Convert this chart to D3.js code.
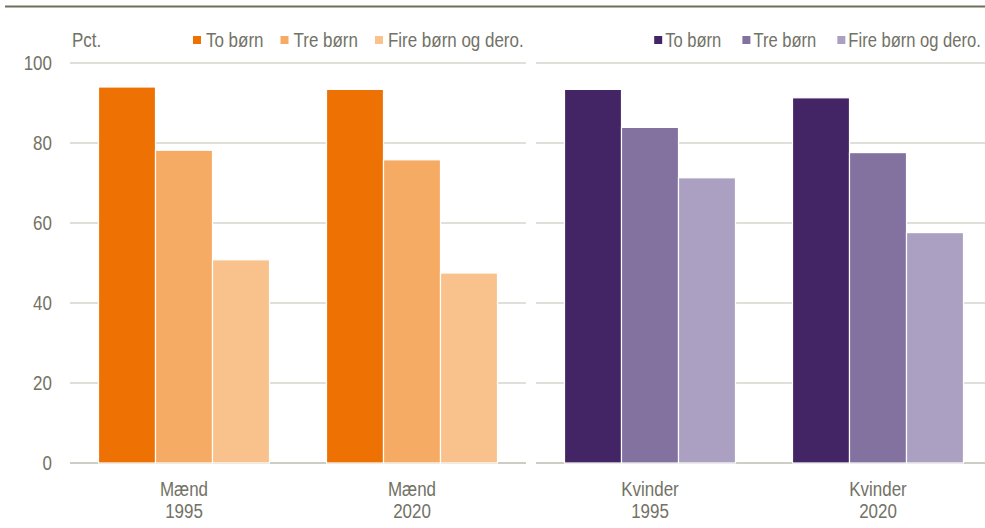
<!DOCTYPE html>
<html>
<head>
<meta charset="utf-8">
<script src="https://cdn.jsdelivr.net/npm/d3@7"></script>
<style>
  html, body { margin: 0; padding: 0; background: #fff; }
  svg { display: block; }
  text { font-family: "Liberation Sans Narrow", "Arial Narrow", "Liberation Sans", Arial, sans-serif; fill: #727266; }
</style>
</head>
<body>
<svg id="chart" width="985" height="528"></svg>
<script>
// ---- Data ----
const seriesNames = ["To børn", "Tre børn", "Fire børn og dero."];
const menGroups = ["Mænd|1995", "Mænd|2020"];
const womenGroups = ["Kvinder|1995", "Kvinder|2020"];
const men1995 = [94.0, 78.2, 50.8];
const men2020 = [93.4, 75.8, 47.5];
const women1995 = [93.4, 83.9, 71.3];
const women2020 = [91.3, 77.6, 57.6];
const yTicks = [0, 20, 40, 60, 80, 100];
const yLabel = "Pct.";
const menColors = ["#EE7203", "#F6AB65", "#F9C28C"];
const womenColors = ["#432566", "#8371A0", "#ABA0C2"];

// ---- Layout ----
const svg = d3.select("#chart");
const FONT = 19.5;
const SQUEEZE = 0.87;
const y = d3.scaleLinear().domain([0, 100]).range([463, 63]);

function condense(sel, k) {
  const f = k || SQUEEZE;
  sel.each(function () {
    const w = this.getComputedTextLength();
    d3.select(this).attr("textLength", w * f).attr("lengthAdjust", "spacingAndGlyphs");
  });
}

// top rule
svg.append("line").attr("x1", 5).attr("x2", 985).attr("y1", 6.5).attr("y2", 6.5)
  .attr("stroke", "#6f6e5c").attr("stroke-width", 2);

function panel(groups, values, colors, range, legend, showYAxis) {
  const g = svg.append("g");
  const x0 = d3.scaleBand().domain(groups).range(range).paddingInner(0.25).paddingOuter(0.125);
  const x1 = d3.scaleBand().domain(seriesNames).range([0, x0.bandwidth()]);
  const color = d3.scaleOrdinal().domain(seriesNames).range(colors);

  // gridlines
  g.selectAll("line.grid").data(yTicks).join("line")
    .attr("class", "grid")
    .attr("x1", range[0]).attr("x2", Math.min(range[1], 985))
    .attr("y1", d => y(d)).attr("y2", d => y(d))
    .attr("stroke", d => d === 0 ? "#bcbcb2" : "#c2c2b8")
    .attr("stroke-width", d => d === 0 ? 1.5 : 1.2);

  // bars
  const gg = g.selectAll("g.grp").data(groups.map((k, i) => ({ key: k, vals: values[i] })))
    .join("g").attr("transform", d => `translate(${x0(d.key)},0)`);
  gg.selectAll("rect").data(d => seriesNames.map((s, j) => ({ s, v: d.vals[j] })))
    .join("rect")
    .attr("x", d => x1(d.s))
    .attr("width", x1.bandwidth())
    .attr("y", d => y(d.v))
    .attr("height", d => y(0) - y(d.v))
    .attr("fill", d => color(d.s))
    .attr("stroke", "#fff").attr("stroke-width", 1.2);

  // category labels
  const lab = g.selectAll("text.cat").data(groups).join("text")
    .attr("class", "cat")
    .attr("text-anchor", "middle")
    .attr("font-size", FONT);
  lab.each(function (d) {
    const parts = d.split("|");
    const cx = x0(d) + x0.bandwidth() / 2;
    const t = d3.select(this);
    condense(t.append("tspan").attr("x", cx).attr("y", 496).text(parts[0]));
    condense(t.append("tspan").attr("x", cx).attr("y", 518).text(parts[1]));
  });

  // y axis labels
  if (showYAxis) {
    condense(g.selectAll("text.ytick").data(yTicks).join("text")
      .attr("class", "ytick")
      .attr("text-anchor", "end")
      .attr("font-size", FONT)
      .attr("x", 52)
      .attr("y", d => y(d)).attr("dy", "0.35em")
      .text(d => d));
    condense(g.append("text").attr("x", 72).attr("y", 47).attr("font-size", FONT).text(yLabel));
  }

  // legend (text horizontally scaled via transform)
  const leg = g.append("g");
  const items = seriesNames.map(s => {
    const rect = leg.append("rect").attr("y", 36).attr("width", 8).attr("height", 8).attr("fill", color(s));
    const tg = leg.append("g");
    const t = tg.append("text").attr("x", 0).attr("y", 0).attr("font-size", FONT).text(s);
    const w = t.node().getComputedTextLength() * legend.squeeze;
    return { rect, tg, w };
  });
  const total = d3.sum(items, d => legend.pad + d.w) + legend.gap * (items.length - 1);
  let cx = legend.anchor === "end" ? legend.x - total : legend.x;
  items.forEach(it => {
    it.rect.attr("x", cx);
    it.tg.attr("transform", `translate(${cx + legend.pad},47) scale(${legend.squeeze},1)`);
    cx += legend.pad + it.w + legend.gap;
  });
}

panel(menGroups, [men1995, men2020], menColors, [70, 526],
  { x: 193, anchor: "start", pad: 13, gap: 17, squeeze: SQUEEZE }, true);
panel(womenGroups, [women1995, women2020], womenColors, [536, 992],
  { x: 981, anchor: "end", pad: 11, gap: 21, squeeze: 0.85 }, false);
</script>
</body>
</html>
